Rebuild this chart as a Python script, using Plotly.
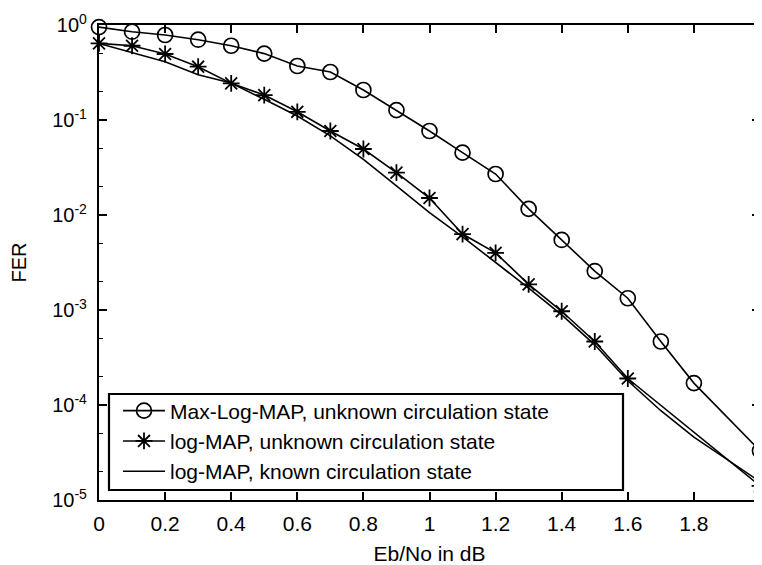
import plotly.graph_objects as go

# Max-Log-MAP, unknown circulation state
x_maxlog = [0, 0.1, 0.2, 0.3, 0.4, 0.5, 0.6, 0.7, 0.8, 0.9, 1.0, 1.1, 1.2, 1.3, 1.4, 1.5, 1.6, 1.7, 1.8, 2.0]
fer_maxlog = [0.95, 0.85, 0.785, 0.70, 0.605, 0.50, 0.37, 0.32, 0.207, 0.127, 0.0766, 0.0453, 0.027,
              0.0116, 0.00546, 0.00257, 0.00133, 0.000466, 0.00017, 3.3e-5]

# log-MAP, unknown circulation state
x_logu = [0, 0.1, 0.2, 0.3, 0.4, 0.5, 0.6, 0.7, 0.8, 0.9, 1.0, 1.1, 1.2, 1.3, 1.4, 1.5, 1.6, 2.0]
fer_logu = [0.64, 0.605, 0.495, 0.364, 0.243, 0.183, 0.122, 0.0766, 0.0495, 0.0279, 0.0151, 0.0063,
            0.0040, 0.00186, 0.00097, 0.000466, 0.00019, 1.41e-5]

# log-MAP, known circulation state
x_logk = [0, 0.2, 0.3, 0.4, 0.5, 0.6, 0.7, 0.8, 0.9, 1.0, 1.1, 1.2, 1.3, 1.4, 1.5, 1.6, 1.7, 1.8, 2.0]
fer_logk = [0.64, 0.41, 0.30, 0.245, 0.165, 0.110, 0.068, 0.0386, 0.0202, 0.0106, 0.0059, 0.0032,
            0.0017, 0.00089, 0.00043, 0.00018, 8.7e-5, 4.6e-5, 1.56e-5]

names = ["Max-Log-MAP, unknown circulation state",
         "log-MAP, unknown circulation state",
         "log-MAP, known circulation state"]

y_tickvals = [1, 0.1, 0.01, 0.001, 1e-4, 1e-5]
y_ticktext = ["10<sup>0</sup>", "10<sup>-1</sup>", "10<sup>-2</sup>", "10<sup>-3</sup>",
              "10<sup>-4</sup>", "10<sup>-5</sup>"]

# the page body has an 8px margin, so the figure is sized/offset to compensate
W, H = 754, 557
L, R, T, B = 91, 2, 17, 65
pw, ph = W - L - R, H - T - B   # 661 x 475 plot area

fig = go.Figure()
fig.add_trace(go.Scatter(x=x_maxlog, y=fer_maxlog, name=names[0], mode="lines+markers",
                         cliponaxis=False,
                         line=dict(color="black", width=1.6),
                         marker=dict(symbol="circle-open", size=15, color="black",
                                     line=dict(width=1.7, color="black"))))
fig.add_trace(go.Scatter(x=x_logu, y=fer_logu, name=names[1], mode="lines+markers",
                         cliponaxis=False,
                         line=dict(color="black", width=1.6),
                         marker=dict(symbol="asterisk-open", size=14, color="black",
                                     line=dict(width=1.8, color="black"))))
fig.add_trace(go.Scatter(x=x_logk, y=fer_logk, name=names[2], mode="lines",
                         cliponaxis=False,
                         line=dict(color="black", width=1.6)))

font_family = "Liberation Sans, Arial, Helvetica, sans-serif"

# legend frame (screen px of reference: x 109..623, y 394..490; plot area x 99..760, y 25..500)
fig.add_shape(type="rect", xref="paper", yref="paper",
              x0=(109 - 99) / pw, x1=(623 - 99) / pw,
              y0=(500 - 490) / ph, y1=(500 - 394) / ph,
              line=dict(color="black", width=2.2), fillcolor="white", layer="above")

fig.update_layout(
    width=W, height=H,
    margin=dict(l=L, r=R, t=T, b=B),
    paper_bgcolor="white", plot_bgcolor="white",
    font=dict(family=font_family, size=20, color="black"),
    showlegend=True,
    legend=dict(x=(118 - 99) / pw, y=(500 - 390.5) / ph, xanchor="left", yanchor="top",
                bgcolor="rgba(0,0,0,0)", borderwidth=0,
                font=dict(size=21, family=font_family, color="black"),
                tracegroupgap=0, itemwidth=42),
    xaxis=dict(range=[0, 2], dtick=0.2, tick0=0, showgrid=False, zeroline=False,
               automargin=False, ticklabeloverflow="allow",
               showline=True, linecolor="black", linewidth=2.2, mirror="allticks",
               ticks="inside", ticklen=8, tickwidth=1.5, tickcolor="black",
               ticklabelstandoff=4,
               title=dict(text="Eb/No in dB", font=dict(size=21), standoff=14),
               tickfont=dict(size=21)),
    yaxis=dict(type="log", range=[-5, 0], showgrid=False, zeroline=False,
               automargin=False, ticklabeloverflow="allow",
               tickvals=y_tickvals, ticktext=y_ticktext,
               showline=True, linecolor="black", linewidth=2.2, mirror="allticks",
               ticks="inside", ticklen=8, tickwidth=1.5, tickcolor="black",
               ticklabelstandoff=6,
               minor=dict(ticks="inside", ticklen=4, tickwidth=1.2, tickcolor="black",
                          showgrid=False),
               title=dict(text="FER", font=dict(size=20), standoff=21),
               tickfont=dict(size=20)),
)

fig.write_html("out.html")
